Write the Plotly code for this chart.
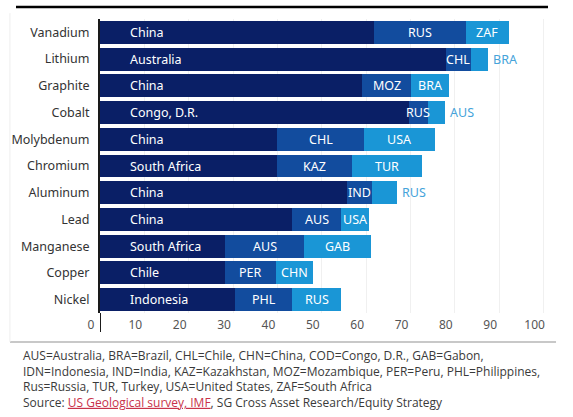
import plotly.graph_objects as go

categories = ["Vanadium", "Lithium", "Graphite", "Cobalt", "Molybdenum", "Chromium",
              "Aluminum", "Lead", "Manganese", "Copper", "Nickel"]
first_country = ["China", "Australia", "China", "Congo, D.R.", "China", "South Africa",
                 "China", "China", "South Africa", "Chile", "Indonesia"]
first_share = [61.8, 77.9, 59.1, 69.7, 40.0, 40.0, 55.7, 43.3, 28.2, 28.2, 30.5]
second_country = ["RUS", "CHL", "MOZ", "RUS", "CHL", "KAZ", "IND", "AUS", "AUS", "PER", "PHL"]
second_share = [20.6, 5.7, 11.0, 4.2, 19.5, 16.8, 5.6, 11.1, 17.8, 11.5, 12.8]
third_country = ["ZAF", "BRA", "BRA", "AUS", "USA", "TUR", "RUS", "USA", "GAB", "CHN", "RUS"]
third_share = [9.8, 3.9, 8.6, 3.9, 16.0, 15.8, 5.7, 6.3, 15.1, 8.3, 11.1]
third_outside = [False, True, False, True, False, False, True, False, False, False, False]
x_ticks = [0, 10, 20, 30, 40, 50, 60, 70, 80, 90, 100]

footnote = ("AUS=Australia, BRA=Brazil, CHL=Chile, CHN=China, COD=Congo, D.R., GAB=Gabon,<br>"
            "IDN=Indonesia, IND=India, KAZ=Kazakhstan, MOZ=Mozambique, PER=Peru, PHL=Philippines,<br>"
            "Rus=Russia, TUR, Turkey, USA=United States, ZAF=South Africa<br>"
            "Source: <span style='color:#c8324a'><u>US Geological survey, IMF</u></span>, "
            "SG Cross Asset Research/Equity Strategy")

DARK = "#0a1f66"
MID = "#124c9e"
LIGHT = "#1a96d6"
OUT_TXT = "#45a3da"
LABEL_FONT = "Noto Sans"

ypos = list(range(len(categories)))
fig = go.Figure()
fig.add_bar(y=ypos, x=first_share, orientation="h", marker=dict(color=DARK, line_width=0),
            width=0.86, hoverinfo="skip")
fig.add_bar(y=ypos, x=second_share, orientation="h", marker=dict(color=MID, line_width=0),
            width=0.86, hoverinfo="skip")
fig.add_bar(y=ypos, x=third_share, orientation="h", marker=dict(color=LIGHT, line_width=0),
            width=0.86, hoverinfo="skip")

ann = []
for i in ypos:
    ann.append(dict(x=0, y=i, xref="x", yref="y", text=first_country[i], showarrow=False,
                    xanchor="left", xshift=28, font=dict(color="white", size=12.5, family=LABEL_FONT)))
    ann.append(dict(x=first_share[i] + second_share[i] / 2, y=i, xref="x", yref="y",
                    text=second_country[i], showarrow=False, xanchor="center",
                    font=dict(color="white", size=12.5, family=LABEL_FONT)))
    total = first_share[i] + second_share[i] + third_share[i]
    if third_outside[i]:
        ann.append(dict(x=total, y=i, xref="x", yref="y", text=third_country[i], showarrow=False,
                        xanchor="left", xshift=3, font=dict(color=OUT_TXT, size=12.5, family=LABEL_FONT)))
    else:
        ann.append(dict(x=first_share[i] + second_share[i] + third_share[i] / 2, y=i, xref="x", yref="y",
                        text=third_country[i], showarrow=False, xanchor="center",
                        font=dict(color="white", size=12.5, family=LABEL_FONT)))

ann.append(dict(x=-0.177, y=-0.108, xref="paper", yref="paper", text=footnote, showarrow=False,
                xanchor="left", yanchor="top", align="left",
                font=dict(color="#3a3a3a", size=12, family="Open Sans")))

shapes = [
    dict(type="line", xref="paper", yref="paper", x0=-0.1875, x1=1.0, y0=1.0408, y1=1.0408,
         line=dict(color="black", width=2.5)),
    dict(type="line", xref="paper", yref="paper", x0=-0.2009, x1=1.0179, y0=-0.0986, y1=-0.0986,
         line=dict(color="#c8c8c8", width=2)),
    dict(type="line", xref="x", yref="paper", x0=0, x1=0, y0=0, y1=-0.0646,
         line=dict(color="#1a1a1a", width=2)),
    dict(type="line", xref="paper", yref="paper", x0=-0.201, x1=-0.201, y0=-0.0986, y1=1.02,
         line=dict(color="#eeeeee", width=1)),
]

fig.update_layout(
    width=573, height=417,
    margin=dict(l=100, r=25, t=19, b=104),
    barmode="stack", bargap=0.14,
    showlegend=False,
    plot_bgcolor="white", paper_bgcolor="white",
    annotations=ann, shapes=shapes,
    xaxis=dict(range=[0, 101], tickvals=x_ticks, ticktext=[str(v) for v in x_ticks],
               showgrid=True, gridcolor="#f0f0f0", gridwidth=1, zeroline=False, showline=False,
               ticks="", ticklabelshift=-9, ticklabelstandoff=3,
               tickfont=dict(color="#555555", size=12, family=LABEL_FONT), fixedrange=True),
    yaxis=dict(range=[10.5, -0.5], tickvals=ypos, ticktext=categories, showgrid=False,
               zeroline=False, showline=True, linecolor="#1a1a1a", linewidth=2, ticks="",
               ticklabelstandoff=6,
               tickfont=dict(color="#333333", size=12.5, family=LABEL_FONT), fixedrange=True),
)

fig.write_html("out.html", config={"displayModeBar": False})
